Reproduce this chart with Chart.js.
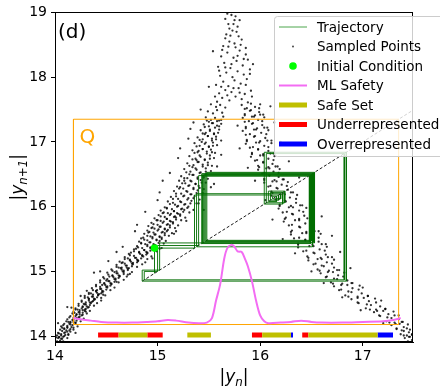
<!DOCTYPE html>
<html>
<head>
<meta charset="utf-8">
<script src="https://cdn.jsdelivr.net/npm/chart.js@4.4.1/dist/chart.umd.min.js"></script>
<style>
  html, body { margin: 0; padding: 0; background: #fff; }
  #wrap { width: 440px; height: 392px; }
</style>
</head>
<body>
<div id="wrap"><canvas id="mapChart" width="440" height="392"></canvas></div>
<script>
// tick labels
const xTicks = [14, 15, 16, 17];
const yTicks = [14, 15, 16, 17, 18, 19];

// sampled points of the return map |y_n| -> |y_n+1|
const leftBranch = [
  [14.00,13.95],[14.02,13.92],[14.03,13.97],[14.05,13.93],[14.07,13.96],[14.08,13.92],
  [14.02,14.01],[14.04,13.98],[14.06,14.03],[14.08,13.99],[14.10,14.02],[14.12,13.97],
  [14.04,14.04],[14.07,14.08],[14.09,14.05],[14.11,14.09],[14.13,14.03],[14.15,14.07],
  [14.06,14.15],[14.09,14.11],[14.12,14.13],[14.14,14.09],[14.16,14.14],[14.18,14.10],
  [14.09,14.19],[14.12,14.16],[14.15,14.21],[14.17,14.17],[14.20,14.20],[14.22,14.15],
  [14.12,14.26],[14.15,14.22],[14.18,14.25],[14.20,14.21],[14.23,14.27],[14.25,14.23],
  [14.15,14.31],[14.18,14.28],[14.21,14.33],[14.23,14.29],[14.26,14.32],[14.28,14.27],
  [14.18,14.38],[14.21,14.34],[14.24,14.37],[14.27,14.33],[14.29,14.39],[14.31,14.35],
  [14.20,14.43],[14.24,14.40],[14.27,14.45],[14.29,14.41],[14.32,14.44],[14.34,14.39],
  [14.23,14.50],[14.27,14.46],[14.30,14.49],[14.33,14.45],[14.35,14.51],[14.38,14.47],
  [14.26,14.55],[14.30,14.52],[14.33,14.57],[14.36,14.53],[14.38,14.56],[14.41,14.51],
  [14.29,14.62],[14.33,14.58],[14.36,14.61],[14.39,14.57],[14.42,14.63],[14.45,14.59],
  [14.33,14.67],[14.37,14.64],[14.40,14.69],[14.43,14.65],[14.46,14.68],[14.49,14.63],
  [14.36,14.74],[14.40,14.70],[14.44,14.73],[14.47,14.69],[14.51,14.75],[14.54,14.71],
  [14.40,14.79],[14.44,14.76],[14.48,14.81],[14.51,14.77],[14.55,14.80],[14.58,14.75],
  [14.44,14.86],[14.48,14.82],[14.52,14.85],[14.55,14.81],[14.59,14.87],[14.62,14.83],
  [14.47,14.91],[14.51,14.88],[14.56,14.93],[14.59,14.89],[14.63,14.92],[14.67,14.87],
  [14.51,14.98],[14.56,14.94],[14.60,14.97],[14.63,14.93],[14.67,14.99],[14.71,14.95],
  [14.55,15.03],[14.60,15.00],[14.64,15.05],[14.67,15.01],[14.71,15.04],[14.75,14.99],
  [14.60,15.10],[14.65,15.06],[14.69,15.09],[14.72,15.05],[14.76,15.11],[14.80,15.07],
  [14.63,15.15],[14.68,15.12],[14.73,15.17],[14.76,15.13],[14.81,15.16],[14.85,15.11],
  [14.68,15.22],[14.73,15.18],[14.78,15.21],[14.81,15.17],[14.86,15.23],[14.90,15.19],
  [14.72,15.27],[14.77,15.24],[14.82,15.29],[14.85,15.25],[14.90,15.28],[14.94,15.23],
  [14.77,15.34],[14.82,15.30],[14.87,15.33],[14.90,15.29],[14.95,15.35],[14.99,15.31],
  [14.80,15.39],[14.85,15.36],[14.90,15.41],[14.93,15.37],[14.98,15.40],[15.02,15.35],
  [14.82,15.46],[14.88,15.42],[14.93,15.45],[14.97,15.41],[15.02,15.47],[15.06,15.43],
  [14.84,15.51],[14.90,15.48],[14.95,15.53],[14.99,15.49],[15.04,15.52],[15.08,15.47],
  [14.87,15.58],[14.93,15.54],[14.98,15.57],[15.02,15.53],[15.07,15.59],[15.11,15.55],
  [14.90,15.63],[14.96,15.60],[15.01,15.65],[15.05,15.61],[15.10,15.64],[15.14,15.59],
  [14.91,15.70],[14.97,15.66],[15.03,15.69],[15.07,15.65],[15.12,15.71],[15.17,15.67],
  [14.94,15.75],[15.00,15.72],[15.06,15.77],[15.10,15.73],[15.15,15.76],[15.20,15.71],
  [14.97,15.82],[15.03,15.78],[15.09,15.81],[15.13,15.77],[15.18,15.83],[15.23,15.79],
  [15.01,15.87],[15.07,15.84],[15.13,15.89],[15.17,15.85],[15.22,15.88],[15.27,15.83],
  [15.03,15.94],[15.10,15.90],[15.16,15.93],[15.20,15.89],[15.26,15.95],[15.31,15.91],
  [15.07,15.99],[15.14,15.96],[15.20,16.01],[15.24,15.97],[15.30,16.00],[15.35,15.95],
  [15.10,16.08],[15.17,16.03],[15.23,16.07],[15.27,16.04],[15.33,16.09],[15.38,16.05],
  [15.13,16.15],[15.20,16.12],[15.26,16.17],[15.30,16.13],[15.36,16.16],[15.41,16.11],
  [15.16,16.24],[15.23,16.20],[15.29,16.23],[15.33,16.19],[15.39,16.25],[15.44,16.21],
  [15.19,16.31],[15.25,16.28],[15.31,16.33],[15.35,16.29],[15.40,16.32],[15.45,16.27],
  [15.21,16.40],[15.27,16.36],[15.33,16.39],[15.37,16.35],[15.42,16.41],[15.47,16.37],
  [15.23,16.47],[15.29,16.44],[15.35,16.49],[15.39,16.45],[15.44,16.48],[15.49,16.43],
  [15.26,16.58],[15.32,16.54],[15.38,16.57],[15.42,16.53],[15.47,16.59],[15.52,16.55],
  [15.29,16.67],[15.35,16.64],[15.40,16.69],[15.44,16.65],[15.49,16.68],[15.53,16.63],
  [15.31,16.78],[15.37,16.74],[15.42,16.77],[15.46,16.73],[15.51,16.79],[15.55,16.75],
  [15.34,16.87],[15.39,16.84],[15.44,16.89],[15.48,16.85],[15.52,16.88],[15.56,16.83],
  [15.36,16.98],[15.41,16.94],[15.46,16.97],[15.50,16.93],[15.54,16.99],[15.58,16.95],
  [15.39,17.07],[15.44,17.04],[15.49,17.09],[15.53,17.05],[15.57,17.08],
  [15.42,17.18],[15.47,17.14],[15.51,17.17],[15.55,17.13],[15.60,17.19],
  [15.45,17.27],[15.50,17.24],[15.54,17.29],[15.58,17.25],[15.62,17.28],
  [15.47,17.38],[15.52,17.34],[15.56,17.37],[15.60,17.33],[15.64,17.39],
  [15.49,17.47],[15.54,17.44],[15.58,17.49],[15.63,17.45],
  [15.52,17.58],[15.57,17.54],[15.61,17.57],[15.66,17.53],
  [14.01,13.98],[14.04,13.99],[14.06,13.96],[14.09,14.00],
  [14.03,14.05],[14.06,14.01],[14.10,14.06],[14.13,14.02],
  [14.05,14.10],[14.09,14.12],[14.12,14.07],[14.15,14.11],
  [14.08,14.17],[14.12,14.14],[14.15,14.18],[14.18,14.13],
  [14.11,14.23],[14.14,14.19],[14.18,14.22],[14.21,14.24],
  [14.14,14.29],[14.17,14.25],[14.21,14.28],[14.24,14.30],
  [14.17,14.35],[14.20,14.31],[14.24,14.34],[14.27,14.36],
  [14.20,14.41],[14.23,14.37],[14.27,14.40],[14.30,14.42],
  [14.23,14.47],[14.26,14.43],[14.31,14.46],[14.34,14.48],
  [14.26,14.53],[14.29,14.49],[14.34,14.52],[14.37,14.54],
  [14.29,14.59],[14.33,14.55],[14.38,14.58],[14.41,14.60],
  [14.33,14.65],[14.37,14.61],[14.42,14.64],[14.45,14.66],
  [14.37,14.71],[14.41,14.67],[14.46,14.70],[14.50,14.72],
  [14.40,14.77],[14.45,14.73],[14.50,14.76],[14.54,14.78],
  [14.44,14.83],[14.49,14.79],[14.54,14.82],[14.58,14.84],
  [14.48,14.89],[14.53,14.85],[14.58,14.88],[14.62,14.90],
  [14.52,14.95],[14.57,14.91],[14.62,14.94],[14.67,14.96],
  [14.56,15.01],[14.61,14.97],[14.66,15.00],[14.71,15.02],
  [14.60,15.07],[14.65,15.03],[14.70,15.06],[14.75,15.08],
  [14.65,15.13],[14.70,15.09],[14.75,15.12],[14.80,15.14],
  [14.68,15.19],[14.74,15.15],[14.80,15.18],[14.84,15.20],
  [14.73,15.25],[14.79,15.21],[14.85,15.24],[14.89,15.26],
  [14.77,15.31],[14.83,15.27],[14.89,15.30],[14.93,15.32],
  [14.81,15.37],[14.87,15.33],[14.93,15.36],[14.97,15.38],
  [14.84,15.43],[14.90,15.39],[14.96,15.42],[15.01,15.44],
  [14.87,15.49],[14.92,15.45],[14.99,15.48],[15.04,15.50],
  [14.90,15.55],[14.95,15.51],[15.02,15.54],[15.07,15.56],
  [14.92,15.61],[14.97,15.57],[15.04,15.60],[15.09,15.62],
  [14.94,15.67],[15.00,15.63],[15.07,15.66],[15.12,15.68],
  [14.96,15.73],[15.02,15.69],[15.09,15.72],[15.15,15.74],
  [14.99,15.79],[15.05,15.75],[15.12,15.78],[15.18,15.80],
  [15.03,15.85],[15.09,15.81],[15.16,15.84],[15.22,15.86],
  [15.06,15.91],[15.12,15.87],[15.19,15.90],[15.25,15.92],
  [15.09,15.97],[15.16,15.93],[15.23,15.96],[15.29,15.98],
  [15.12,16.04],[15.19,16.00],[15.26,16.03],[15.32,16.05],
  [15.15,16.12],[15.22,16.08],[15.29,16.11],[15.35,16.13],
  [15.18,16.20],[15.25,16.16],[15.32,16.19],[15.38,16.21],
  [15.21,16.28],[15.28,16.24],[15.35,16.27],[15.41,16.29],
  [15.24,16.36],[15.30,16.32],[15.37,16.35],[15.43,16.37],
  [15.26,16.44],[15.32,16.40],[15.39,16.43],[15.45,16.45],
  [15.28,16.53],[15.34,16.49],[15.41,16.52],[15.47,16.54],
  [15.31,16.63],[15.37,16.59],[15.44,16.62],[15.49,16.64],
  [15.34,16.73],[15.39,16.69],[15.46,16.72],[15.51,16.74],
  [15.36,16.83],[15.41,16.79],[15.48,16.82],[15.53,16.84],
  [15.38,16.93],[15.44,16.89],[15.50,16.92],[15.54,16.94],
  [15.41,17.03],[15.47,16.99],[15.53,17.02],[15.57,17.04],
  [15.44,17.13],[15.49,17.09],[15.55,17.12],[15.59,17.14],
  [15.46,17.23],[15.51,17.19],[15.56,17.22],[15.60,17.24],
  [15.48,17.33],[15.53,17.29],[15.58,17.32],[15.62,17.34]
];
const strayPoints = [
  [14.07,14.13],[14.13,14.22],[14.19,14.36],[14.22,14.41],[14.28,14.50],[14.32,14.60],
  [14.35,14.66],[14.41,14.71],[14.46,14.79],[14.50,14.86],[14.53,14.92],[14.58,14.99],
  [14.62,15.06],[14.66,15.14],[14.71,15.20],[14.74,15.29],[14.79,15.35],[14.84,15.44],
  [14.86,15.52],[14.91,15.60],[14.95,15.68],[15.00,15.79],[15.05,15.90],[15.09,15.98],
  [15.15,16.06],[15.18,16.16],[15.22,16.30],[15.26,16.40],[15.31,16.50],[15.34,16.61],
  [15.38,16.72],[15.40,16.86],[15.43,17.00],[15.46,17.12],[15.50,17.31],
  [14.03,14.20],[14.30,14.38],[14.16,14.44],[14.47,14.64],[14.31,14.70],[14.60,14.84],
  [14.44,15.00],[14.73,14.96],[14.52,15.16],[14.88,15.14],[14.66,15.38],[15.04,15.36],
  [14.80,15.72],[15.16,15.58],[14.88,15.92],[15.28,15.78],[15.02,16.22],[15.40,16.05],
  [15.12,16.52],[15.52,16.30],[15.22,16.90],[15.58,16.62],[15.32,17.20],[15.62,17.02],
  [15.42,17.50],[14.12,14.45],[14.25,14.62],[14.38,14.98],[14.60,15.30],[14.78,15.62],
  [15.00,16.10],[15.05,16.40],[15.20,16.75],[15.30,17.05],[15.35,17.30],[14.20,14.05],
  [14.45,14.55],[14.70,14.92],[14.95,15.20],[15.18,15.62],[15.45,15.95],[15.55,16.35],
  [15.62,16.80],
  [17.46,14.10],[17.20,14.20],[17.35,14.32],[16.98,14.40],[17.18,14.55],[16.80,14.60],
  [17.00,14.75],[16.62,14.82],[16.88,15.05],[16.50,15.00],[16.78,15.30],[16.34,15.28],
  [16.70,15.55],[16.22,15.50],[16.60,15.85],[16.12,15.80],[16.50,16.10],[16.05,16.10],
  [16.38,16.45],[15.95,16.40],[16.28,16.70],[15.88,16.60],[16.20,17.00],[15.80,16.90],
  [16.14,17.30],[15.78,17.25],[16.10,17.55]
];
const peakPoints = [
  [15.58,17.62],[15.63,17.68],[15.70,17.64],[15.76,17.70],[15.82,17.66],[15.88,17.61],
  [15.60,17.75],[15.66,17.80],[15.72,17.77],[15.79,17.83],[15.85,17.74],[15.91,17.79],
  [15.57,17.88],[15.64,17.93],[15.69,17.86],[15.75,17.95],[15.81,17.90],[15.87,17.97],
  [15.61,18.02],[15.67,18.07],[15.73,18.00],[15.78,18.09],[15.84,18.04],[15.90,18.12],
  [15.59,18.16],[15.65,18.22],[15.71,18.14],[15.77,18.25],[15.83,18.18],[15.88,18.27],
  [15.62,18.32],[15.68,18.38],[15.74,18.30],[15.80,18.41],[15.86,18.35],
  [15.64,18.48],[15.70,18.55],[15.76,18.46],[15.82,18.58],[15.67,18.66],[15.73,18.72],
  [15.79,18.63],[15.69,18.82],[15.75,18.88],[15.72,18.96],[15.78,18.78],[15.66,18.90],
  [15.50,17.85],[15.93,18.20],[15.54,18.40],
  [15.56,17.70],[15.62,17.85],[15.68,17.72],[15.74,17.83],[15.80,17.76],[15.86,17.88],
  [15.92,17.70],[15.60,18.10],[15.66,18.15],[15.72,18.20],[15.78,18.33],[15.84,18.28],
  [15.90,18.05],[15.63,18.42],[15.69,18.47],[15.75,18.52],[15.81,18.50],[15.86,18.45],
  [15.66,18.60],[15.71,18.64],[15.77,18.70],[15.70,18.75],[15.74,18.82],[15.68,18.98],
  [15.76,18.94],[15.80,18.88]
];
const rightBranch = [
  [17.41,13.97],[17.44,13.92],[17.46,13.99],[17.48,13.94],[17.49,13.97],
  [17.37,14.03],[17.40,14.08],[17.43,14.01],[17.45,14.06],[17.48,14.02],
  [17.28,14.17],[17.33,14.12],[17.36,14.19],[17.40,14.14],[17.44,14.18],
  [17.23,14.23],[17.28,14.28],[17.31,14.21],[17.35,14.26],[17.39,14.22],
  [17.11,14.37],[17.16,14.32],[17.20,14.39],[17.25,14.34],[17.30,14.38],
  [17.03,14.43],[17.08,14.48],[17.13,14.41],[17.17,14.46],[17.22,14.42],
  [16.89,14.57],[16.95,14.52],[17.01,14.59],[17.06,14.54],[17.12,14.58],
  [16.83,14.63],[16.89,14.68],[16.95,14.61],[16.99,14.66],[17.05,14.62],
  [16.72,14.77],[16.79,14.72],[16.85,14.79],[16.90,14.74],[16.97,14.78],
  [16.69,14.83],[16.75,14.88],[16.80,14.81],[16.85,14.86],[16.90,14.82],
  [16.59,14.97],[16.65,14.92],[16.71,14.99],[16.76,14.94],[16.82,14.98],
  [16.56,15.03],[16.62,15.08],[16.67,15.01],[16.72,15.06],[16.77,15.02],
  [16.47,15.17],[16.54,15.12],[16.60,15.19],[16.65,15.14],[16.72,15.18],
  [16.46,15.23],[16.53,15.28],[16.59,15.21],[16.64,15.26],[16.70,15.22],
  [16.37,15.37],[16.45,15.32],[16.52,15.39],[16.58,15.34],[16.65,15.38],
  [16.37,15.43],[16.44,15.48],[16.51,15.41],[16.57,15.46],[16.64,15.42],
  [16.30,15.57],[16.38,15.52],[16.45,15.59],[16.52,15.54],[16.59,15.58],
  [16.31,15.63],[16.39,15.68],[16.45,15.61],[16.51,15.66],[16.57,15.62],
  [16.23,15.77],[16.31,15.72],[16.38,15.79],[16.44,15.74],[16.51,15.78],
  [16.25,15.83],[16.32,15.88],[16.38,15.81],[16.43,15.86],[16.49,15.82],
  [16.18,15.97],[16.26,15.92],[16.32,15.99],[16.38,15.94],[16.45,15.98],
  [16.19,16.03],[16.25,16.08],[16.30,16.01],[16.35,16.06],[16.41,16.02],
  [16.11,16.17],[16.18,16.12],[16.24,16.19],[16.29,16.14],[16.36,16.18],
  [16.11,16.23],[16.17,16.28],[16.22,16.21],[16.27,16.26],[16.32,16.22],
  [16.04,16.37],[16.10,16.32],[16.16,16.39],[16.21,16.34],[16.27,16.38],
  [16.04,16.43],[16.09,16.48],[16.14,16.41],[16.18,16.46],[16.23,16.42],
  [15.98,16.57],[16.04,16.52],[16.09,16.59],[16.13,16.54],[16.19,16.58],
  [15.98,16.63],[16.03,16.68],[16.08,16.61],[16.12,16.66],[16.17,16.62],
  [15.91,16.77],[15.97,16.72],[16.03,16.79],[16.08,16.74],[16.14,16.78],
  [15.92,16.83],[15.98,16.88],[16.03,16.81],[16.08,16.86],[16.13,16.82],
  [15.86,16.97],[15.93,16.92],[15.99,16.99],[16.04,16.94],[16.11,16.98],
  [15.87,17.03],[15.94,17.08],[16.00,17.01],[16.05,17.06],[16.11,17.02],
  [15.83,17.17],[15.90,17.12],[15.96,17.19],[16.01,17.14],[16.08,17.18],
  [15.86,17.23],[15.92,17.28],[15.97,17.21],[16.02,17.26],[16.07,17.22],
  [15.83,17.37],[15.89,17.32],[15.94,17.39],[15.98,17.34],[16.04,17.38],
  [15.85,17.43],[15.90,17.48],[15.95,17.41],[15.99,17.46],[16.03,17.42],
  [15.82,17.57],[15.87,17.52],[15.91,17.59],[15.95,17.54],[16.00,17.58],
  [17.40,14.01],[17.45,13.99],[17.48,14.03],[17.33,14.11],[17.38,14.09],[17.43,14.12],
  [17.26,14.21],[17.32,14.19],[17.38,14.22],[17.17,14.31],[17.24,14.29],[17.31,14.32],
  [17.07,14.41],[17.14,14.39],[17.22,14.42],[16.96,14.51],[17.04,14.49],[17.13,14.52],
  [16.86,14.61],[16.95,14.59],[17.05,14.62],[16.77,14.71],[16.86,14.69],[16.96,14.72],
  [16.71,14.81],[16.79,14.79],[16.89,14.82],[16.64,14.91],[16.72,14.89],[16.81,14.92],
  [16.58,15.01],[16.66,14.99],[16.75,15.02],[16.52,15.11],[16.60,15.09],[16.70,15.12],
  [16.47,15.21],[16.56,15.19],[16.66,15.22],[16.42,15.31],[16.52,15.29],[16.63,15.32],
  [16.37,15.41],[16.48,15.39],[16.60,15.42],[16.33,15.51],[16.44,15.49],[16.57,15.52],
  [16.30,15.61],[16.41,15.59],[16.53,15.62],[16.28,15.71],[16.38,15.69],[16.50,15.72],
  [16.24,15.81],[16.34,15.79],[16.46,15.82],[16.22,15.91],[16.31,15.89],[16.42,15.92],
  [16.19,16.01],[16.28,15.99],[16.39,16.02],[16.15,16.11],[16.24,16.09],[16.35,16.12],
  [16.12,16.21],[16.20,16.19],[16.30,16.22],[16.08,16.31],[16.16,16.29],[16.26,16.32],
  [16.04,16.41],[16.12,16.39],[16.22,16.42],[16.02,16.51],[16.09,16.49],[16.18,16.52],
  [15.99,16.61],[16.06,16.59],[16.15,16.62],[15.95,16.71],[16.03,16.69],[16.13,16.72],
  [15.92,16.81],[16.00,16.79],[16.10,16.82],[15.90,16.91],[15.98,16.89],[16.08,16.92],
  [15.87,17.01],[15.96,16.99],[16.07,17.02],[15.86,17.11],[15.95,17.09],[16.06,17.12],
  [15.86,17.21],[15.94,17.19],[16.04,17.22],[15.85,17.31],[15.93,17.29],[16.02,17.32],
  [15.85,17.41],[15.92,17.39],[16.00,17.42],[15.85,17.51],[15.91,17.49],[15.99,17.52]
];

// trajectory |y_n|, first value is the initial condition
const trajectory = [14.97, 15.36, 16.18, 16.10, 16.22, 16.04, 16.84, 14.85, 15.02, 15.44,
  16.50, 15.47, 16.52, 15.45, 16.49, 15.43, 16.51, 15.38, 16.20, 16.12, 16.16, 16.08,
  16.24, 16.06, 16.82, 14.87, 15.00, 15.40, 16.48, 15.46, 16.50, 15.48, 16.53, 15.44, 16.47];

// ML safety curve
const mlX = [14.18, 14.25, 14.35, 14.45, 14.60, 14.75, 14.90, 15.00, 15.10, 15.18, 15.30, 15.40,
  15.48, 15.53, 15.57, 15.61, 15.65, 15.68, 15.72, 15.75, 15.78, 15.82, 15.85, 15.88, 15.92,
  15.96, 16.00, 16.04, 16.08, 16.20, 16.30, 16.40, 16.50, 16.60, 16.80, 17.00, 17.20, 17.30, 17.37];
const mlY = [14.28, 14.26, 14.24, 14.22, 14.21, 14.21, 14.22, 14.23, 14.25, 14.24, 14.21, 14.20,
  14.21, 14.28, 14.55, 14.80, 15.20, 15.36, 15.41, 15.38, 15.31, 15.30, 15.20, 15.08, 14.85,
  14.55, 14.32, 14.23, 14.20, 14.21, 14.22, 14.24, 14.22, 14.21, 14.21, 14.22, 14.23, 14.25, 14.28];

// box Q and the diagonal
const qBounds = [14.18, 17.35];
const diagRange = [14.85, 17.49];

// intervals along the bottom
const barLevel = 14.02;
const safeSegs = [[14.62, 14.90], [15.29, 15.52], [16.02, 16.30], [16.47, 17.145]];
const underSegs = [[14.42, 14.62], [14.90, 15.05], [15.92, 16.02], [16.41, 16.47]];
const overSegs = [[16.30, 16.32], [17.145, 17.295]];

// cobweb path built from the trajectory
const cobweb = [{x: trajectory[0], y: trajectory[0]}];
for (let i = 0; i < trajectory.length - 1; i++) {
  cobweb.push({x: trajectory[i], y: trajectory[i + 1]});
  cobweb.push({x: trajectory[i + 1], y: trajectory[i + 1]});
}

function segPoints(segs) {
  const pts = [];
  segs.forEach(s => {
    pts.push({x: s[0], y: barLevel}, {x: s[1], y: barLevel}, {x: s[1], y: null});
  });
  return pts;
}

const sampled = leftBranch.concat(strayPoints, peakPoints, rightBranch).map(p => ({x: p[0], y: p[1]}));
const qBox = [
  {x: qBounds[0], y: qBounds[0]}, {x: qBounds[1], y: qBounds[0]},
  {x: qBounds[1], y: qBounds[1]}, {x: qBounds[0], y: qBounds[1]}, {x: qBounds[0], y: qBounds[0]}
];
const FONT = "'DejaVu Sans', sans-serif";

function drawMath(ctx, parts, size) {
  // parts: [text, italic, sub]
  let w = 0;
  const fonts = parts.map(p => {
    const s = p[2] ? size * 0.7 : size;
    return (p[1] ? 'italic ' : '') + s + 'px ' + FONT;
  });
  parts.forEach((p, i) => { ctx.font = fonts[i]; w += ctx.measureText(p[0]).width; });
  let x = -w / 2;
  parts.forEach((p, i) => {
    ctx.font = fonts[i];
    ctx.fillText(p[0], x, p[2] ? size * 0.22 : 0);
    x += ctx.measureText(p[0]).width;
  });
}

const decor = {
  id: 'decor',
  afterDraw(chart) {
    const ctx = chart.ctx;
    const a = chart.chartArea;
    const xs = chart.scales.x, ys = chart.scales.y;
    ctx.save();
    // frame
    ctx.strokeStyle = '#000';
    ctx.lineWidth = 1;
    ctx.strokeRect(Math.round(a.left) + 0.5, Math.round(a.top) + 0.5,
      Math.round(a.right - a.left) - 1, Math.round(a.bottom - a.top) - 1);

    ctx.fillStyle = '#000';
    ctx.textBaseline = 'alphabetic';
    ctx.textAlign = 'left';
    ctx.font = '20px ' + FONT;
    ctx.fillText('(d)', a.left + 3, a.top + 26);

    ctx.fillStyle = 'orange';
    ctx.font = '20px ' + FONT;
    ctx.fillText('Q', xs.getPixelForValue(qBounds[0]) + 6, ys.getPixelForValue(qBounds[1]) + 24);

    // axis titles
    ctx.fillStyle = '#000';
    ctx.save();
    ctx.translate((a.left + a.right) / 2, 382);
    drawMath(ctx, [['|', false, false], ['y', true, false], ['n', true, true], ['|', false, false]], 17);
    ctx.restore();
    ctx.save();
    ctx.translate(23, (a.top + a.bottom) / 2);
    ctx.rotate(-Math.PI / 2);
    drawMath(ctx, [['|', false, false], ['y', true, false], ['n+1', true, true], ['|', false, false]], 17);
    ctx.restore();

    // legend
    const lx = 274, ly = 16, lw = 170, lh = 140;
    ctx.fillStyle = 'rgba(255,255,255,0.8)';
    ctx.strokeStyle = '#cccccc';
    ctx.beginPath();
    ctx.roundRect(lx + 0.5, ly + 0.5, lw, lh, 3);
    ctx.fill();
    ctx.stroke();
    const items = chart.data.datasets.filter(d => d.label);
    ctx.font = '13.5px ' + FONT;
    ctx.textBaseline = 'middle';
    items.forEach((d, i) => {
      const y = ly + 11 + i * 19.5;
      const hx0 = lx + 5, hx1 = lx + 33, hc = (hx0 + hx1) / 2;
      if (d.legendKind === 'line') {
        ctx.strokeStyle = d.legendColor || d.borderColor;
        ctx.lineWidth = d.borderWidth;
        ctx.beginPath();
        ctx.moveTo(hx0, y);
        ctx.lineTo(hx1, y);
        ctx.stroke();
      } else {
        ctx.fillStyle = d.backgroundColor;
        ctx.beginPath();
        ctx.arc(hc, y, d.legendRadius || d.pointRadius, 0, Math.PI * 2);
        ctx.fill();
      }
      ctx.fillStyle = '#000';
      ctx.fillText(d.label, lx + 43, y + 1);
    });
    ctx.restore();
  }
};

new Chart(document.getElementById('mapChart'), {
  type: 'scatter',
  data: {
    datasets: [
      {
        label: 'Trajectory', legendKind: 'line', legendColor: 'rgba(0,128,0,0.7)', data: cobweb,
        showLine: true, borderColor: 'rgba(0,110,0,0.92)', borderWidth: 1, pointRadius: 0, order: 5
      },
      {
        label: 'Sampled Points', legendKind: 'dot', legendRadius: 0.9, data: sampled,
        backgroundColor: 'rgba(0,0,0,0.8)', pointRadius: 1.15, borderWidth: 0, order: 10
      },
      {
        label: 'Initial Condition', legendKind: 'dot', data: [{x: trajectory[0], y: trajectory[1]}],
        backgroundColor: '#00ff00', pointRadius: 3.8, borderWidth: 0, order: 1
      },
      {
        label: 'ML Safety', legendKind: 'line', data: mlX.map((x, i) => ({x: x, y: mlY[i]})),
        showLine: true, borderColor: '#f36cf3', borderWidth: 2, pointRadius: 0, tension: 0.3, order: 4
      },
      {
        label: 'Safe Set', legendKind: 'line', data: segPoints(safeSegs), showLine: true,
        borderColor: '#bfbf00', borderWidth: 5, pointRadius: 0, borderCapStyle: 'butt', order: 3
      },
      {
        label: 'Underrepresented', legendKind: 'line', data: segPoints(underSegs), showLine: true,
        borderColor: '#ff0000', borderWidth: 5, pointRadius: 0, borderCapStyle: 'butt', order: 3
      },
      {
        label: 'Overrepresented', legendKind: 'line', data: segPoints(overSegs), showLine: true,
        borderColor: '#0000ff', borderWidth: 5, pointRadius: 0, borderCapStyle: 'butt', order: 3
      },
      {
        data: [{x: diagRange[0], y: diagRange[0]}, {x: diagRange[1], y: diagRange[1]}],
        showLine: true, borderColor: '#000', borderWidth: 0.9, borderDash: [3, 2],
        pointRadius: 0, order: 9
      },
      {
        data: qBox, showLine: true, borderColor: 'orange', borderWidth: 1,
        pointRadius: 0, order: 8
      }
    ]
  },
  options: {
    responsive: false,
    animation: false,
    devicePixelRatio: 1,
    events: [],
    layout: { padding: { top: 9, right: 27, left: 0, bottom: 0 } },
    plugins: { legend: { display: false }, tooltip: { enabled: false } },
    scales: {
      x: {
        type: 'linear', min: 14, max: 17.49,
        afterBuildTicks: s => { s.ticks = xTicks.map(v => ({value: v})); },
        afterFit: s => { s.height = 50; },
        grid: { drawOnChartArea: false, drawTicks: true, tickLength: 4, color: '#000' },
        border: { display: true, color: '#000', width: 1 },
        ticks: { color: '#000', font: { family: FONT, size: 14 }, padding: 2, maxRotation: 0 }
      },
      y: {
        type: 'linear', min: 13.91, max: 19,
        afterBuildTicks: s => { s.ticks = yTicks.map(v => ({value: v})); },
        afterFit: s => { s.width = 55; },
        grid: { drawOnChartArea: false, drawTicks: true, tickLength: 4, color: '#000' },
        border: { display: true, color: '#000', width: 1 },
        ticks: { color: '#000', font: { family: FONT, size: 14 }, padding: 4 }
      }
    }
  },
  plugins: [decor]
});
</script>
</body>
</html>
